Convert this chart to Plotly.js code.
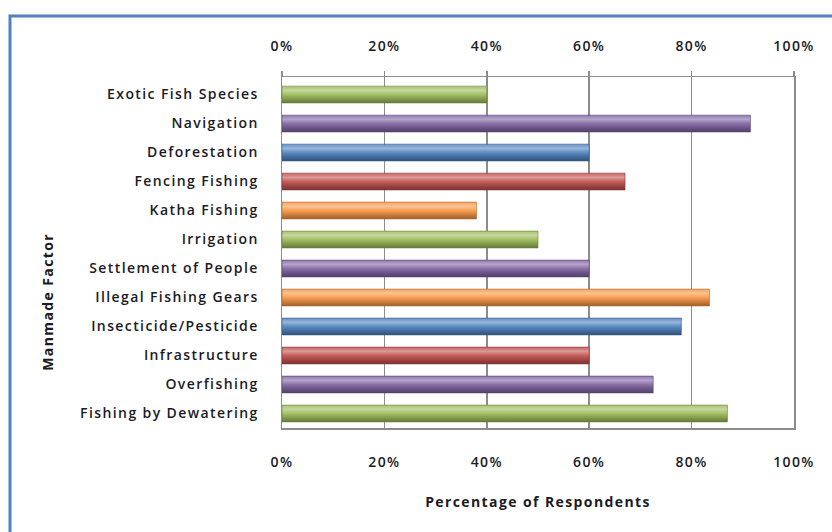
<!DOCTYPE html>
<html>
<head>
<meta charset="utf-8">
<script src="https://cdn.plot.ly/plotly-3.0.1.min.js"></script>
<style>
  html, body { margin: 0; padding: 0; background: #ffffff; }
  #chart { width: 832px; height: 532px; }
  /* looser tracking for every chart label */
  #chart svg text { letter-spacing: 1.4px; }
</style>
</head>
<body>
<div id="chart"></div>
<script>
// Manmade factors affecting the fishery, top to bottom
const factors = [
  "Exotic Fish Species", "Navigation", "Deforestation", "Fencing Fishing",
  "Katha Fishing", "Irrigation", "Settlement of People", "Illegal Fishing Gears",
  "Insecticide/Pesticide", "Infrastructure", "Overfishing", "Fishing by Dewatering"
];
// Share of respondents naming each factor (%)
const respondents = [40, 91.5, 60, 67, 38, 50, 60, 83.5, 78, 60, 72.5, 87];
// Bar colours, one per factor
const barColors = [
  "#9bbb59", "#8064a2", "#4f81bd", "#c0504d", "#f79646", "#9bbb59",
  "#8064a2", "#f79646", "#4f81bd", "#c0504d", "#8064a2", "#9bbb59"
];
const tickValues = [0, 20, 40, 60, 80, 100];
const tickLabels = ["0%", "20%", "40%", "60%", "80%", "100%"];

const gridGrey = "#8c8c8c";
const textColor = "#1b1b26";
const labelFont = { family: "Open Sans", size: 14, color: textColor, weight: 600 };
const titleFont = { family: "Open Sans", size: 14, color: textColor, weight: 700 };

const trace = {
  type: "bar",
  orientation: "h",
  x: respondents,
  y: factors,
  width: 0.58,
  marker: { color: barColors, line: { width: 0 } },
  hoverinfo: "skip"
};

// invisible companion so the top axis is drawn
const topTrace = {
  type: "scatter", mode: "none",
  x: [0, 100], y: [factors[0], factors[0]],
  xaxis: "x2", yaxis: "y", hoverinfo: "skip", showlegend: false
};

const W = 832, H = 532;
const m = { l: 282, r: 38, t: 77, b: 104 };
const pw = W - m.l - m.r, ph = H - m.t - m.b;

const layout = {
  width: W, height: H,
  margin: m,
  paper_bgcolor: "#ffffff",
  plot_bgcolor: "#ffffff",
  showlegend: false,
  font: labelFont,
  xaxis: {
    range: [0, 100],
    tickvals: tickValues, ticktext: tickLabels,
    showgrid: true, gridcolor: gridGrey, gridwidth: 1.5,
    zeroline: false,
    showline: true, linecolor: gridGrey, linewidth: 1.5, mirror: true,
    ticks: "", ticklabelstandoff: 21,
    tickfont: labelFont,
    fixedrange: true,
    title: { text: "Percentage of Respondents", font: titleFont, standoff: 27 }
  },
  xaxis2: {
    overlaying: "x", side: "top", range: [0, 100],
    tickvals: tickValues, ticktext: tickLabels,
    showgrid: false, zeroline: false, showline: false,
    ticks: "outside", ticklen: 5, tickwidth: 1.5, tickcolor: gridGrey,
    ticklabelstandoff: 14,
    tickfont: labelFont,
    fixedrange: true
  },
  yaxis: {
    type: "category",
    autorange: "reversed",
    showgrid: false, zeroline: false,
    showline: true, linecolor: gridGrey, linewidth: 1.5, mirror: true,
    ticks: "", ticklabelstandoff: 19,
    tickfont: labelFont,
    fixedrange: true
  },
  annotations: [{
    text: "Manmade Factor",
    textangle: -90,
    xref: "paper", yref: "paper",
    x: (47 - m.l) / pw, y: 1 - (302 - m.t) / ph,
    xanchor: "center", yanchor: "middle",
    showarrow: false,
    font: titleFont
  }],
  shapes: [{
    // outer chart frame
    type: "rect", xref: "paper", yref: "paper",
    x0: (10 - m.l) / pw, x1: (W + 10 - m.l) / pw,
    y0: -(H + 10 - m.t - ph) / ph, y1: 1 + (m.t - 16) / ph,
    line: { color: "#4f81bd", width: 3 },
    fillcolor: "rgba(0,0,0,0)", layer: "below"
  }]
};

// shade a hex colour towards white (f>0) or black (f<0)
function shade(hex, f) {
  const n = parseInt(hex.slice(1), 16);
  let r = (n >> 16) & 255, g = (n >> 8) & 255, b = n & 255;
  const t = f < 0 ? 0 : 255, p = Math.abs(f);
  r = Math.round(r + (t - r) * p);
  g = Math.round(g + (t - g) * p);
  b = Math.round(b + (t - b) * p);
  return "rgb(" + r + "," + g + "," + b + ")";
}

// give each bar a rounded, cylinder-like vertical gradient
function addBarGradients(gd) {
  const svg = gd.querySelector("svg.main-svg");
  const NS = "http://www.w3.org/2000/svg";
  let defs = svg.querySelector("defs#bar-grads");
  if (!defs) {
    defs = document.createElementNS(NS, "defs");
    defs.setAttribute("id", "bar-grads");
    svg.insertBefore(defs, svg.firstChild);
  }
  const made = {};
  const stops = [[0, 0.12], [0.25, 0.42], [0.5, 0.08], [0.8, -0.2], [1, -0.36]];
  const paths = gd.querySelectorAll(".barlayer .point path");
  paths.forEach((p, i) => {
    const c = barColors[i];
    const id = "grad" + c.slice(1);
    if (!made[id]) {
      const lg = document.createElementNS(NS, "linearGradient");
      lg.setAttribute("id", id);
      lg.setAttribute("x1", "0"); lg.setAttribute("y1", "0");
      lg.setAttribute("x2", "0"); lg.setAttribute("y2", "1");
      stops.forEach(s => {
        const st = document.createElementNS(NS, "stop");
        st.setAttribute("offset", s[0]);
        st.setAttribute("stop-color", shade(c, s[1]));
        lg.appendChild(st);
      });
      defs.appendChild(lg);
      made[id] = true;
    }
    p.style.fill = "url(#" + id + ")";
    p.style.stroke = shade(c, -0.3);
    p.style.strokeWidth = "0.6px";
  });
}

Plotly.newPlot("chart", [trace, topTrace], layout, { displayModeBar: false, staticPlot: true })
  .then(addBarGradients);
</script>
</body>
</html>
